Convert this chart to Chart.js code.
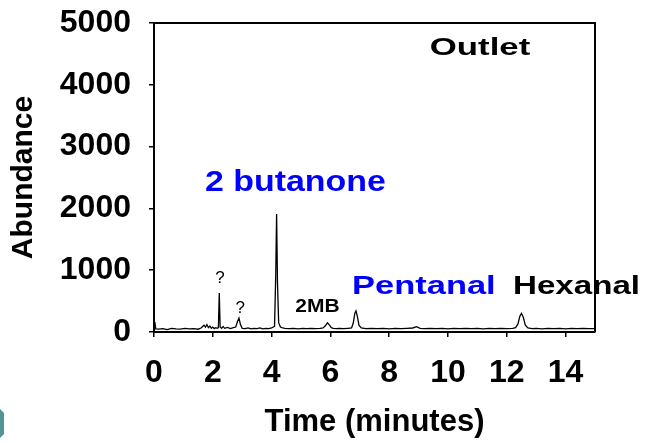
<!DOCTYPE html>
<html><head><meta charset="utf-8">
<script src="https://cdn.jsdelivr.net/npm/chart.js@4"></script>
<style>html,body{margin:0;padding:0;background:#fff}canvas{display:block}</style>
</head><body>
<canvas id="c" width="647" height="443"></canvas>
<script>
// ---- data ----
const times = [0.03,0.06,0.15,0.3,0.45,0.6,0.75,0.9,1.05,1.2,1.35,1.5,1.6,1.7,1.75,1.8,1.85,1.9,1.95,2.0,2.05,2.1,2.15,2.19,2.22,2.25,2.3,2.35,2.4,2.5,2.6,2.7,2.78,2.84,2.89,2.94,3.0,3.1,3.2,3.3,3.4,3.5,3.6,3.7,3.8,3.9,4.0,4.1,4.14,4.17,4.2,4.24,4.3,4.38,4.45,4.6,4.75,4.9,5.05,5.2,5.35,5.5,5.65,5.75,5.83,5.9,5.97,6.03,6.1,6.2,6.3,6.45,6.6,6.72,6.78,6.83,6.87,6.92,6.97,7.05,7.2,7.4,7.6,7.8,8.0,8.2,8.4,8.6,8.8,8.93,9.05,9.2,9.4,9.6,9.8,10.0,10.2,10.4,10.6,10.8,11.0,11.2,11.4,11.6,11.8,12.0,12.2,12.3,12.38,12.44,12.5,12.56,12.63,12.72,12.85,13.0,13.2,13.4,13.6,13.8,14.0,14.2,14.4,14.6,14.8,15.0];
const abundance = [160,50,45,55,40,60,50,45,60,50,55,45,65,110,80,120,70,95,60,80,55,70,60,70,630,80,60,90,60,75,55,70,80,170,225,120,60,55,65,50,60,55,65,50,60,55,65,90,900,1910,800,150,80,65,60,55,60,50,60,55,60,55,60,65,100,150,110,70,60,55,60,55,60,65,150,300,340,250,110,65,55,60,55,60,50,60,55,60,65,85,60,55,60,55,60,50,60,55,60,55,60,50,60,55,60,55,60,70,130,250,302,240,110,65,55,60,50,60,55,60,50,60,55,60,55,55];
const xTicks = [0,2,4,6,8,10,12,14];
const yTicks = [0,1000,2000,3000,4000,5000];
const xTitle = 'Time (minutes)';
const yTitle = 'Abundance';
const annotations = [
  {text:'Outlet',     t:11.09, a:4595, size:24, sx:1.45, color:'#000000'},
  {text:'2 butanone', t:4.81,  a:2411, size:29, sx:1.17, color:'#0000ff'},
  {text:'Pentanal',   t:9.18,  a:728,  size:26.5, sx:1.3, color:'#0000ff'},
  {text:'Hexanal',    t:14.37, a:728,  size:26.5, sx:1.25, color:'#000000'},
  {text:'2MB',        t:5.56,  a:404,  size:17.5, sx:1.2, color:'#000000'},
  {text:'?',          t:2.24,  a:874,  size:17, sx:1.0, color:'#000000', normal:true},
  {text:'?',          t:2.93,  a:388,  size:17, sx:1.0, color:'#000000', normal:true}
];

const FONT = '"Liberation Sans", Arial, sans-serif';

const decor = {
  id:'decor',
  afterDraw(chart){
    const {ctx, chartArea:ca, scales} = chart;
    ctx.save();
    ctx.strokeStyle='#000'; ctx.lineWidth=2;
    ctx.beginPath();
    ctx.moveTo(ca.left, ca.top); ctx.lineTo(ca.right, ca.top); ctx.lineTo(ca.right, ca.bottom);
    ctx.stroke();
    annotations.forEach(an=>{
      const x = scales.x.getPixelForValue(an.t);
      const y = scales.y.getPixelForValue(an.a);
      ctx.save();
      ctx.translate(x,y);
      ctx.scale(an.sx,1);
      ctx.font = (an.normal?'':'bold ') + an.size + 'px ' + FONT;
      ctx.fillStyle = an.color;
      ctx.textAlign='center'; ctx.textBaseline='middle';
      ctx.fillText(an.text,0,0);
      ctx.restore();
    });
    ctx.fillStyle='#4f9593';
    ctx.beginPath();
    ctx.moveTo(0,409); ctx.lineTo(4,413); ctx.lineTo(4,434); ctx.lineTo(0,438); ctx.closePath();
    ctx.fill();
    ctx.restore();
  }
};

new Chart(document.getElementById('c'), {
  type:'line',
  data:{ datasets:[{
    data: times.map((t,i)=>({x:t, y:abundance[i]})),
    borderColor:'#000', borderWidth:1.3, pointRadius:0, tension:0, fill:false
  }]},
  options:{
    responsive:false, animation:false,
    layout:{padding:{left:0, top:23, right:52, bottom:0}},
    plugins:{legend:{display:false}, tooltip:{enabled:false}},
    scales:{
      x:{
        type:'linear', min:0, max:15,
        afterBuildTicks: s=>{ s.ticks = xTicks.map(v=>({value:v})); },
        afterFit: s=>{ s.height = 111; s.paddingLeft = 0; s.paddingRight = 0; },
        border:{display:true, color:'#000', width:2},
        grid:{drawOnChartArea:false, drawTicks:true, tickLength:5, color:'#000', lineWidth:1.5},
        ticks:{color:'#000', padding:17, maxRotation:0, callback:v=>String(v), font:{family:FONT, size:32, weight:'bold'}},
        title:{display:true, text:xTitle, color:'#000', padding:{top:0,bottom:2}, font:{family:FONT, size:31, weight:'bold'}}
      },
      y:{
        type:'linear', min:0, max:5000,
        afterBuildTicks: s=>{ s.ticks = yTicks.map(v=>({value:v})); },
        afterFit: s=>{ s.width = 154; s.paddingTop = 0; s.paddingBottom = 0; },
        border:{display:true, color:'#000', width:2},
        grid:{drawOnChartArea:false, drawTicks:true, tickLength:5, color:'#000', lineWidth:1.5},
        ticks:{color:'#000', padding:18, callback:v=>String(v), font:{family:FONT, size:32, weight:'bold'}},
        title:{display:true, text:yTitle, color:'#000', padding:{top:6,bottom:0}, font:{family:FONT, size:30, weight:'bold'}}
      }
    }
  },
  plugins:[decor]
});
</script>
</body></html>
